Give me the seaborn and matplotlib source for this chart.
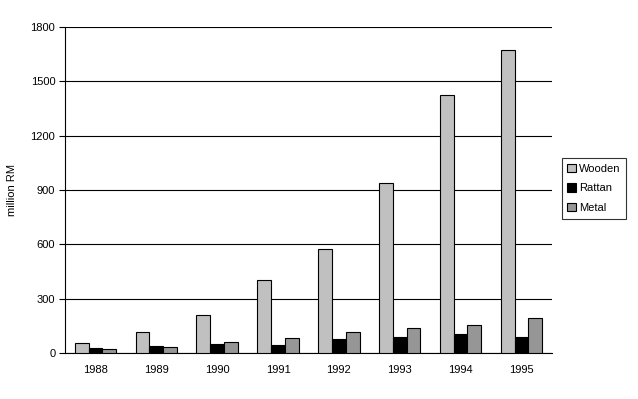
import matplotlib
matplotlib.use("Agg")
import matplotlib.pyplot as plt
import seaborn as sns
import pandas as pd

years = ["1988", "1989", "1990", "1991", "1992", "1993", "1994", "1995"]
wooden = [55, 115, 208, 401, 574, 938, 1424, 1672]
rattan = [28, 39, 48, 44, 79, 90, 107, 90]
metal = [22, 31, 59, 81, 116, 138, 156, 193]
series = ["Wooden", "Rattan", "Metal"]
colors = ["#C0C0C0", "#000000", "#969696"]
yticks = [0, 300, 600, 900, 1200, 1500, 1800]

df = pd.DataFrame({
    "year": years * 3,
    "value": wooden + rattan + metal,
    "type": [s for s in series for _ in years],
})

sns.set_theme(style="white")
plt.rcParams["font.family"] = ["Liberation Sans", "DejaVu Sans"]
plt.rcParams["text.color"] = "black"
plt.rcParams["axes.labelcolor"] = "black"
plt.rcParams["xtick.color"] = "black"
plt.rcParams["ytick.color"] = "black"

fig = plt.figure(figsize=(6.38, 3.99), dpi=100)
ax = fig.add_axes([0.1019, 0.1153, 0.7631, 0.817])

sns.barplot(data=df, x="year", y="value", hue="type", hue_order=series,
            palette=colors, width=0.68, edgecolor="black", linewidth=0.8,
            saturation=1, ax=ax, zorder=3)

ax.set_ylim(0, 1800)
ax.set_yticks(yticks)
ax.set_yticklabels([str(t) for t in yticks], fontsize=8)
ax.set_xlim(-0.5, len(years) - 0.5)
ax.tick_params(axis="x", labelsize=8, length=0, pad=9, labelcolor="black")
ax.tick_params(axis="y", length=4, width=0.8, color="black", direction="out", left=True, pad=3,
               labelcolor="black")
ax.yaxis.grid(True, color="black", linewidth=0.8, zorder=0)
ax.set_axisbelow(True)
for s in ["top", "right"]:
    ax.spines[s].set_visible(False)
for s in ["left", "bottom"]:
    ax.spines[s].set_color("black")
    ax.spines[s].set_linewidth(0.8)
ax.set_xlabel("")
ax.set_ylabel("million RM", fontsize=8, labelpad=10, color="black")

leg = ax.legend(loc="center left", bbox_to_anchor=(1.02, 0.505), fontsize=8,
                frameon=True, fancybox=False, edgecolor="black",
                handlelength=0.8, handleheight=0.8, handletextpad=0.3,
                borderpad=0.5, labelspacing=0.85, borderaxespad=0)
leg.get_frame().set_linewidth(0.8)
for t in leg.get_texts():
    t.set_color("black")

fig.savefig("out.png", dpi=100)
